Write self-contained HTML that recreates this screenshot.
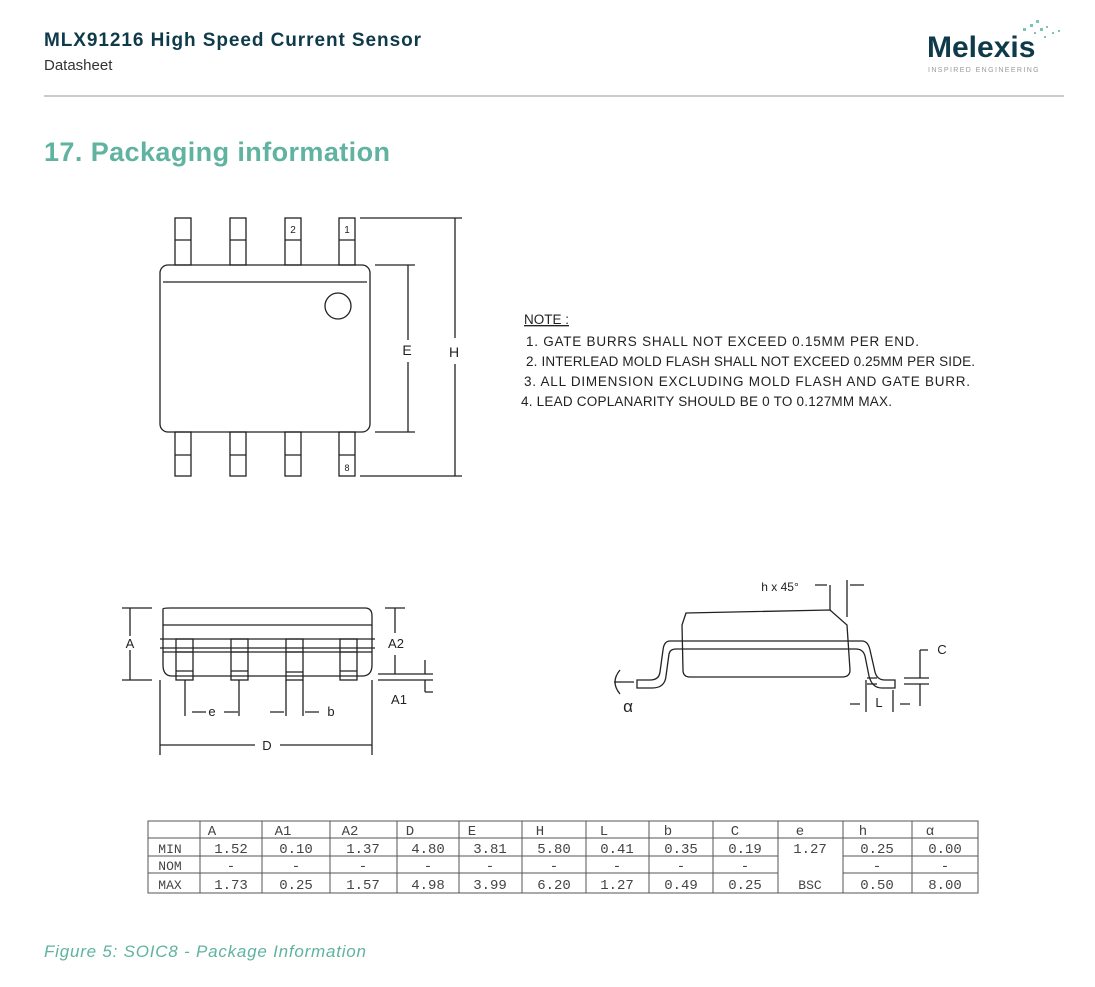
<!DOCTYPE html>
<html><head><meta charset="utf-8"><style>
body{margin:0;background:#fff;width:1095px;height:982px;overflow:hidden;font-family:"Liberation Sans",sans-serif}
</style></head><body>
<svg width="1095" height="982" xmlns="http://www.w3.org/2000/svg" font-family="Liberation Sans, sans-serif">
<text x="44" y="46" font-size="19" font-weight="bold" fill="#0e3a4a" textLength="377">MLX91216 High Speed Current Sensor</text>
<text x="44" y="70" font-size="15" fill="#333">Datasheet</text>
<text x="927" y="57" font-size="30" font-weight="bold" fill="#0e3a4a">Melexis</text>
<text x="928" y="72" font-size="7" fill="#999" letter-spacing="1.4">INSPIRED ENGINEERING</text>
<g fill="#7cc4b8"><rect x="1023" y="28" width="3" height="3"/><rect x="1030" y="24" width="3" height="3"/><rect x="1036" y="20" width="3" height="3"/><rect x="1040" y="28" width="3" height="3"/><rect x="1046" y="26" width="2" height="2"/><rect x="1034" y="32" width="2" height="2"/><rect x="1052" y="32" width="2" height="2"/><rect x="1058" y="30" width="2" height="2"/><rect x="1044" y="36" width="2" height="2"/></g>
<line x1="44" y1="96" x2="1064" y2="96" stroke="#bbb" stroke-width="1.5"/>
<text x="44" y="161" font-size="27" font-weight="bold" fill="#5fb3a0" textLength="346">17. Packaging information</text>

<g stroke="#222" stroke-width="1.3" fill="none">
<rect x="160" y="265" width="210" height="167" rx="8"/>
<line x1="163" y1="282" x2="367" y2="282"/>
<circle cx="338" cy="306" r="13"/>
<rect x="175" y="218" width="16" height="47"/><rect x="230" y="218" width="16" height="47"/><rect x="285" y="218" width="16" height="47"/><rect x="339" y="218" width="16" height="47"/>
<rect x="175" y="432" width="16" height="44"/><rect x="230" y="432" width="16" height="44"/><rect x="285" y="432" width="16" height="44"/><rect x="339" y="432" width="16" height="44"/>
<path d="M175 455h16M230 455h16M285 455h16M339 455h16M175 240h16M230 240h16M285 240h16M339 240h16"/>
<path d="M375 265h40M375 432h40M408 265v75M408 362v70M360 218h102M360 476h102M455 218v120M455 364v112"/>
<path d="M163 609 Q163 608 170 608 H365 Q372 608 372 616 V665 Q372 676 362 676 H172 Q163 676 163 665 Z"/>
<path d="M163 625H372M160 639H375M160 648H375M163 652H372"/>
<rect x="176" y="639" width="17" height="41"/><rect x="231" y="639" width="17" height="41"/><rect x="286" y="639" width="17" height="41"/><rect x="340" y="639" width="17" height="41"/>
<path d="M176 671h17M231 671h17M286 672h17M340 671h17M176 652h17M231 652h17M286 652h17M340 652h17"/>
<path d="M122 608h30M122 680h30M130 608v28M130 650v30M385 608h20M395 608v25M378 674h55M378 680h55M395 655v19M425 660v14M425 680v12M425 692h8"/>
<path d="M185 680v36M239 680v36M286 680v36M303 680v36M160 680v75M372 680v75M160 745h95M280 745h92M192 712h14M224 712h14M270 712h14M305 712h14"/>
<path d="M686 613 L830 610 L847 625 L850 670 Q850 677 842 677 H690 Q683 677 683 670 L682 625 Z"/>
<path d="M682 641H850M682 649H850"/>
<path d="M682 641 H670 Q664 641 663 650 L660 672 Q659 680 650 680 H637 V688 H652 Q665 688 666 676 L669 654 Q670 649 676 649 H682"/>
<path d="M850 641 H862 Q868 641 870 650 L875 672 Q877 680 885 680 H895 V688 H882 Q872 688 869 676 L865 656 Q863 649 856 649 H850"/>
<path d="M830 585v25M847 580v37M815 585h12M850 585h14M867 678h10M867 684h10M904 678h25M904 684h25M920 650v28M920 684v22M920 650h8M866 680v32M893 690v22M850 704h10M900 704h10M614 682h20M620 670 Q610 682 620 694"/>
</g>
<g font-size="12" fill="#222" text-anchor="middle">
<text x="293" y="233" font-size="10">2</text><text x="347" y="233" font-size="10">1</text><text x="347" y="471" font-size="9">8</text>
<text x="407" y="355" font-size="14">E</text><text x="454" y="357" font-size="14">H</text>
<text x="130" y="648" font-size="13">A</text><text x="396" y="648" font-size="13">A2</text><text x="399" y="704" font-size="13">A1</text>
<text x="212" y="716" font-size="13">e</text><text x="331" y="716" font-size="13">b</text><text x="267" y="750" font-size="13">D</text>
<text x="780" y="591" font-size="12">h x 45°</text><text x="942" y="654" font-size="13">C</text><text x="879" y="707" font-size="13">L</text><text x="628" y="712" font-size="17">α</text>
</g>
<g font-size="13.5" fill="#222">
<text x="524" y="324" text-decoration="underline">NOTE :</text>
<text x="526" y="346" textLength="393">1. GATE BURRS SHALL NOT EXCEED 0.15MM PER END.</text>
<text x="526" y="366" textLength="449">2. INTERLEAD MOLD FLASH SHALL NOT EXCEED 0.25MM PER SIDE.</text>
<text x="524" y="386" textLength="446">3. ALL DIMENSION EXCLUDING MOLD FLASH AND GATE BURR.</text>
<text x="521" y="406" textLength="371">4. LEAD COPLANARITY SHOULD BE 0 TO 0.127MM MAX.</text>
</g>
<g stroke="#555" stroke-width="1" fill="none">
<rect x="148" y="821" width="830" height="72"/>
<path d="M148 838H978M148 856H778M843 856H978M148 873H778M843 873H978"/>
<path d="M200 821V893M262 821V893M330 821V893M397 821V893M459 821V893M522 821V893M586 821V893M649 821V893M713 821V893M778 821V893M843 821V893M912 821V893"/>
</g>
<g font-family="Liberation Mono, monospace" font-size="14" fill="#444" text-anchor="middle">
<text x="212" y="835">A</text><text x="283" y="835">A1</text><text x="350" y="835">A2</text><text x="410" y="835">D</text><text x="472" y="835">E</text><text x="540" y="835">H</text><text x="604" y="835">L</text><text x="668" y="835">b</text><text x="735" y="835">C</text><text x="800" y="835">e</text><text x="863" y="835">h</text><text x="930" y="835">α</text>
<text x="170" y="853" font-size="13">MIN</text><text x="170" y="870" font-size="13">NOM</text><text x="170" y="889" font-size="13">MAX</text>
<text x="231" y="853">1.52</text><text x="296" y="853">0.10</text><text x="363" y="853">1.37</text><text x="428" y="853">4.80</text><text x="490" y="853">3.81</text><text x="554" y="853">5.80</text><text x="617" y="853">0.41</text><text x="681" y="853">0.35</text><text x="745" y="853">0.19</text><text x="810" y="853">1.27</text><text x="877" y="853">0.25</text><text x="945" y="853">0.00</text>
<text x="231" y="870">-</text><text x="296" y="870">-</text><text x="363" y="870">-</text><text x="428" y="870">-</text><text x="490" y="870">-</text><text x="554" y="870">-</text><text x="617" y="870">-</text><text x="681" y="870">-</text><text x="745" y="870">-</text><text x="877" y="870">-</text><text x="945" y="870">-</text>
<text x="231" y="889">1.73</text><text x="296" y="889">0.25</text><text x="363" y="889">1.57</text><text x="428" y="889">4.98</text><text x="490" y="889">3.99</text><text x="554" y="889">6.20</text><text x="617" y="889">1.27</text><text x="681" y="889">0.49</text><text x="745" y="889">0.25</text><text x="810" y="889" font-size="13">BSC</text><text x="877" y="889">0.50</text><text x="945" y="889">8.00</text>
</g>
<text x="44" y="957" font-size="17" font-style="italic" fill="#5fb3a0" textLength="322">Figure 5: SOIC8 - Package Information</text>
</svg>
</body></html>
